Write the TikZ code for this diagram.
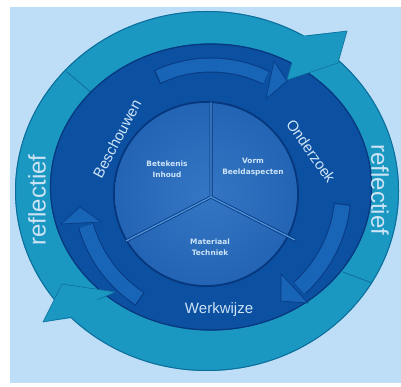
\documentclass[tikz,border=0pt]{standalone}
\usepackage{fontspec}
\setmainfont{Liberation Sans}
\newfontfamily\ringfont[Kerning=Off]{Liberation Sans}
\newfontfamily\smallfont{DejaVu Sans}
\begin{document}
\begin{tikzpicture}[x=1pt,y=-1pt]
\definecolor{bgblue}{RGB}{190,221,247}
\definecolor{teal1}{RGB}{27,152,193}
\definecolor{teal2}{RGB}{14,110,155}
\definecolor{dark}{RGB}{12,80,162}
\definecolor{darkedge}{RGB}{7,55,125}
\definecolor{disc}{RGB}{36,100,180}
\definecolor{discin}{RGB}{52,118,196}
\definecolor{arr}{RGB}{24,100,182}
\definecolor{arredge}{RGB}{9,58,130}
\definecolor{groove}{RGB}{75,145,215}
\definecolor{txt}{RGB}{205,228,247}
\tikzset{
  ringtext/.style={text=txt, font=\ringfont\fontsize{15}{18}\selectfont, inner sep=0pt},
  bigtext/.style={text=txt, font=\ringfont\fontsize{24}{28}\selectfont, inner sep=0pt},
  disctext/.style={text=txt, align=center, font=\smallfont\bfseries\fontsize{7.4}{11.5}\selectfont, inner sep=0pt},
  arrhead/.style={fill=arr, draw=arredge, line width=0.6pt, line join=round},
}
\useasboundingbox (0,0) rectangle (401,387);
\fill[white] (0,0) rectangle (401,387);
\fill[bgblue] (10,7) rectangle (401,383);

% outer teal ring
\fill[teal1] (207,191) ellipse [x radius=192pt, y radius=180pt];
\draw[teal2, line width=1pt] (207,191) ellipse [x radius=191.5pt, y radius=179.5pt];
% seams of the two big arrows
\draw[teal2, line width=0.8pt] (67,72) -- (100,100);
\draw[teal2, line width=0.8pt] (343,272) -- (372,283);

% dark ring
\fill[dark] (211,187) ellipse [x radius=161pt, y radius=143.5pt];
\draw[darkedge, line width=1.2pt] (211,187) ellipse [x radius=160.5pt, y radius=143pt];

% teal arrow heads
\fill[teal1] (287,80) -- (300,36) -- (347,31) -- (338,63) -- cycle;
\draw[teal2, line width=0.6pt, line join=round] (287,80) -- (292,62) (306,36) -- (347,31) -- (338,63) -- (287,80);
\fill[teal1] (43,322) -- (62,284) -- (115,292) -- (97,300) -- (72,318) -- cycle;
\draw[teal2, line width=0.6pt, line join=round] (72,317) -- (43,322) -- (62,284) -- (115,292) -- (97,300);

% inner arrows: top
\draw[line width=15pt, arredge] plot[domain=115.6:64, samples=30, smooth] ({211+125*cos(\x)},{190-125*sin(\x)});
\draw[line width=13pt, arr] plot[domain=115:64, samples=30, smooth] ({211+125*cos(\x)},{190-125*sin(\x)});
\filldraw[arrhead] (274,61) -- (287,81) -- (266,99) -- cycle;
% right
\draw[line width=17pt, arredge] plot[domain=-6:-48, samples=30, smooth] ({211+132*cos(\x)},{190-132*sin(\x)});
\draw[line width=15pt, arr] plot[domain=-6.5:-48, samples=30, smooth] ({211+132*cos(\x)},{190-132*sin(\x)});
\filldraw[arrhead] (281,274) -- (308,303) -- (281,301) -- cycle;
% left
\draw[line width=16pt, arredge] plot[domain=237:196, samples=30, smooth] ({211+130*cos(\x)},{190-130*sin(\x)});
\draw[line width=14pt, arr] plot[domain=236.5:196, samples=30, smooth] ({211+130*cos(\x)},{190-130*sin(\x)});
\filldraw[arrhead] (61,224) -- (80,207) -- (101,222) -- cycle;

% central disc
\draw[darkedge, line width=2pt] (206,194) circle [radius=92pt];
\shade[inner color=discin, outer color=disc] (206,194) circle [radius=91pt];
\coordinate (c) at (211,197);
\coordinate (t) at (211,102.5);
\coordinate (l) at (126,241);
\coordinate (r) at (295,240);
\draw[darkedge, line width=3pt, line cap=round] (t) -- (c) -- (l) (c) -- (r);
\draw[groove, line width=1.4pt] (t) -- (c) -- (l) (c) -- (r);

% disc texts
\node[disctext] (bet) at (167,169) {Betekenis\\Inhoud};
\node[disctext] (vorm) at (253,167) {Vorm\\Beeldaspecten};
\node[disctext] (mat) at (210,247) {Materiaal\\Techniek};

% ring texts
\node[ringtext, rotate=62] (besch) at (117,139) {Beschouwen};
\node[ringtext, rotate=-55] (onder) at (311,151) {Onderzoek};
\node[ringtext] (werk) at (219,310) {Werkwijze};
\node[bigtext, rotate=90] (refl) at (37,200) {reflectief};
\node[bigtext, rotate=-90] (refr) at (380,190) {reflectief};
\end{tikzpicture}
\end{document}
